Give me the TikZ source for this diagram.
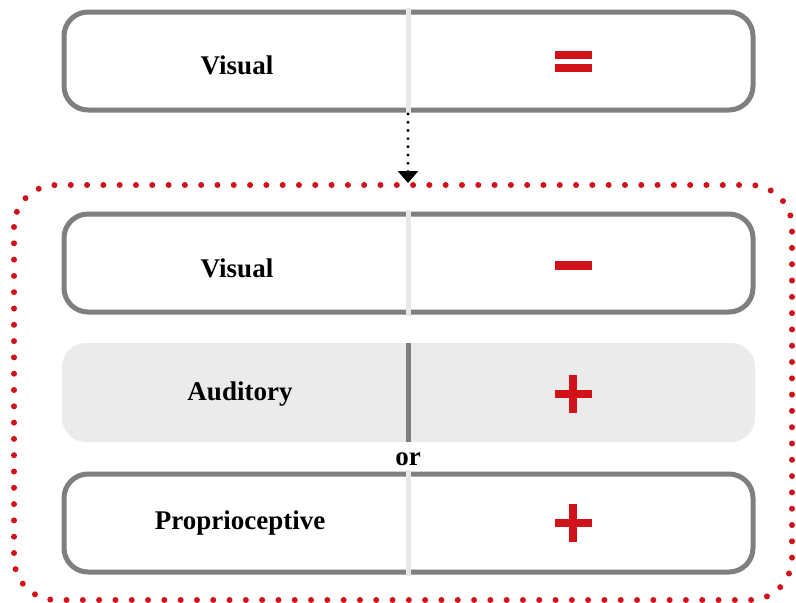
\documentclass[tikz,border=0pt]{standalone}
\usepackage{fontspec}
\setmainfont{Liberation Serif}
\usetikzlibrary{arrows.meta}
\definecolor{frame}{HTML}{7F7F7F}
\definecolor{split}{HTML}{E8E8E8}
\definecolor{panel}{HTML}{EBEBEB}
\definecolor{signred}{HTML}{D0121B}
\begin{document}
\begin{tikzpicture}[x=1pt,y=-1pt,
  senses/.style={draw=frame,line width=5pt,rounded corners=24pt,fill=white},
  shaded/.style={fill=panel,rounded corners=24pt},
  label/.style={font=\fontsize{27}{30}\selectfont\bfseries},
  sign/.style={fill=signred,draw=none}]
\useasboundingbox (0,0) rectangle (796,603);

% outer dotted group
\draw[signred,line width=6pt,dash pattern=on 0pt off 16.3pt,line cap=round,rounded corners=42pt]
  (14,185) rectangle (792,600);

% row 1
\draw[senses] (64,12) rectangle (753,110);
\draw[split,line width=5pt] (408,8) -- (408,114);
\node[label] (v1) at (237,65) {Visual};
\fill[sign] (555,51) rectangle (592,59);
\fill[sign] (555,64) rectangle (592,72);
\coordinate (top) at (408,114);
\coordinate (bot) at (408,183);
\draw[line width=3.2pt,dash pattern=on 0pt off 8.2pt,line cap=round,
  -{Triangle[width=20pt,length=12pt]}] (top) -- (bot);

% row 2
\draw[senses] (64,214) rectangle (753,312);
\draw[split,line width=5pt] (408,210) -- (408,316);
\node[label] (v2) at (237,268) {Visual};
\fill[sign] (555,261) rectangle (592,270);

% row 3
\fill[shaded] (62,343) rectangle (755,442);
\draw[frame,line width=5pt] (408,343) -- (408,442);
\node[label] (au) at (240,394) {Auditory};
\fill[sign] (555,390) rectangle (592,398);
\fill[sign] (569,375) rectangle (577,413);

\node[label] (or) at (408,459) {or};

% row 4
\draw[senses] (64,474) rectangle (753,572);
\draw[split,line width=5pt] (408,470) -- (408,576);
\node[label] (pr) at (240,523) {Proprioceptive};
\fill[sign] (555,519) rectangle (592,527);
\fill[sign] (569,504) rectangle (577,542);
\end{tikzpicture}
\end{document}
